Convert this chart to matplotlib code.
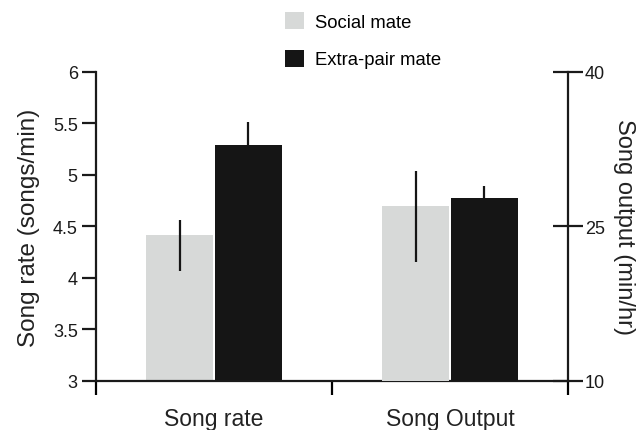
import numpy as np
import matplotlib.pyplot as plt
from matplotlib.patches import Patch

plt.rcParams['font.family'] = ['Liberation Sans', 'DejaVu Sans']

groups = ['Song rate', 'Song Output']
series = ['Social mate', 'Extra-pair mate']
colors = ['#d7d9d8', '#151515']

# song rate (songs/min), left axis
rate_mean = [4.42, 5.29]
rate_low = [4.07, 5.07]
rate_high = [4.56, 5.51]

# song output (min/hr), right axis
output_mean = [26.96, 27.73]
output_low = [21.53, 26.5]
output_high = [30.39, 28.95]

fig = plt.figure(figsize=(6.39, 4.31), dpi=100)
ax = fig.add_axes([0.150, 0.1137, 0.739, 0.717])
ax2 = ax.twinx()

centers = np.array([0.5, 1.5])
w = 0.284
offs = [-0.145, 0.145]

for i in range(2):
    x = centers[0] + offs[i]
    ax.bar(x, rate_mean[i], w, bottom=0, color=colors[i], zorder=2)
    ax.errorbar(x, rate_mean[i],
                yerr=[[rate_mean[i] - rate_low[i]], [rate_high[i] - rate_mean[i]]],
                fmt='none', ecolor='#151515', elinewidth=1.6, capsize=0, zorder=3)
    x = centers[1] + offs[i]
    ax2.bar(x, output_mean[i], w, bottom=0, color=colors[i], zorder=2)
    ax2.errorbar(x, output_mean[i],
                 yerr=[[output_mean[i] - output_low[i]], [output_high[i] - output_mean[i]]],
                 fmt='none', ecolor='#151515', elinewidth=1.6, capsize=0, zorder=3)

ax.set_xlim(0, 2)
ax.set_ylim(3, 6)
ax2.set_ylim(10, 40)

ax.set_yticks([3, 3.5, 4, 4.5, 5, 5.5, 6])
ax.set_yticklabels(['3', '3.5', '4', '4.5', '5', '5.5', '6'])
ax2.set_yticks([10, 25, 40])
ax.set_xticks([0, 1, 2])
ax.set_xticklabels([])
for c, g in zip(centers, groups):
    ax.text(c, -0.12, g, transform=ax.get_xaxis_transform(), ha='center', va='center',
            fontsize=16.5, color='#222222')

for a in (ax, ax2):
    a.spines['top'].set_visible(False)
    for s in a.spines.values():
        s.set_linewidth(1.6)
        s.set_color('#1a1a1a')
ax.spines['right'].set_visible(False)
ax2.spines['left'].set_visible(False)
ax2.spines['bottom'].set_visible(False)

ax.tick_params(axis='y', direction='out', length=10, width=1.6, labelsize=13,
               colors='#1a1a1a', pad=3)
ax.tick_params(axis='x', direction='out', length=10, width=1.6)
ax2.tick_params(axis='y', direction='inout', length=22, width=1.6, labelsize=13,
                colors='#1a1a1a', pad=1)

ax.set_ylabel('Song rate (songs/min)', fontsize=17.5, color='#222222', labelpad=9)
ax2.set_ylabel('Song output (min/hr)', fontsize=17, color='#222222', rotation=270,
               labelpad=22)

handles = [Patch(facecolor=c, edgecolor='none') for c in colors]
fig.legend(handles, series, loc='upper left', bbox_to_anchor=(0.42, 1.008),
           frameon=False, fontsize=13.3, handlelength=1.05, handleheight=1.05,
           labelspacing=1.0, handletextpad=0.6)

fig.savefig('out.png', dpi=100)
